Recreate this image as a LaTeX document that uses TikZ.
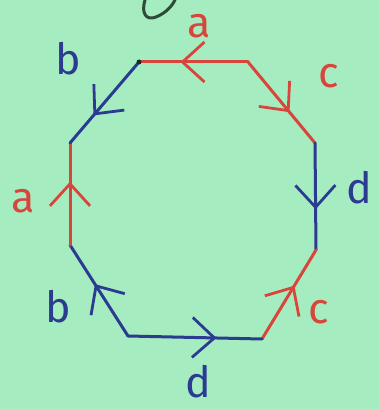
\documentclass[tikz,border=0pt]{standalone}
\usepackage{fontspec}
\setmainfont{Fira Sans}
\usetikzlibrary{arrows.meta,decorations.markings}
\definecolor{bg}{HTML}{A5EDC1}
\definecolor{pred}{HTML}{D8463B}
\definecolor{pblue}{HTML}{2B3B90}
\definecolor{pgreen}{HTML}{2F4A37}
\tikzset{
  edge/.style={line width=3pt, line cap=round, line join=round},
  midarr/.style={postaction={decorate,decoration={markings,
     mark=at position #1 with {\arrow[line width=2.8pt]{Straight Barb[length=22pt,width=40pt]}}}}},
  lab/.style={anchor=base, inner sep=0pt, font=\fontsize{43}{43}\selectfont},
}
\begin{document}
\begin{tikzpicture}[x=1pt,y=-1pt]
\fill[bg] (0,0) rectangle (379,409);
\useasboundingbox (0,0) rectangle (379,409);
% vertices
\coordinate (TL) at (139,62);
\coordinate (TR) at (248,62);
\coordinate (RU) at (315,143);
\coordinate (RL) at (316,250);
\coordinate (BR) at (262,339);
\coordinate (BL) at (128,336);
\coordinate (LL) at (70,245);
\coordinate (LU) at (70,143);
% edges
\draw[edge, pred, midarr=0.62] (TR) -- (TL);
\draw[edge, pred, midarr=0.62] (TR) -- (RU);
\draw[edge, pblue, midarr=0.62] (RU) -- (RL);
\draw[edge, pred, midarr=0.6] (BR) -- (RL);
\draw[edge, pblue, midarr=0.66] (BL) -- (BR);
\draw[edge, pblue, midarr=0.57] (BL) -- (LL);
\draw[edge, pred, midarr=0.62] (LL) -- (LU);
\draw[edge, pblue, midarr=0.66] (TL) -- (LU);
\fill[pgreen!60!black] (TL) circle (2.5pt);
% labels
\node[lab, pred] (la1) at (199,38) {a};
\node[lab, pred] (lc1) at (329,88) {c};
\node[lab, pblue] (ld1) at (359,203) {d};
\node[lab, pred] (lc2) at (319,323) {c};
\node[lab, pblue] (ld2) at (198,397) {d};
\node[lab, pblue] (lb2) at (58,322) {b};
\node[lab, pred] (la2) at (23,212) {a};
\node[lab, pblue] (lb1) at (68,75) {b};
% partial letter at top
\draw[pgreen, line width=3pt, line cap=round] (145,0) .. controls (141,13) and (146,21) .. (156,17) .. controls (166,13) and (172,6) .. (175,0);
\end{tikzpicture}
\end{document}
